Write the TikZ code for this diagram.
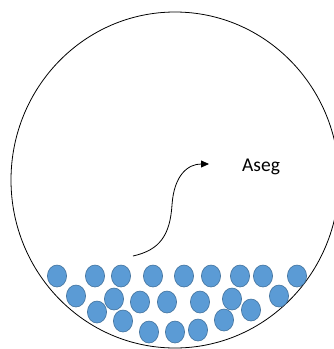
\documentclass[tikz,border=0pt]{standalone}
\usepackage{fontspec}
\setmainfont{Carlito}
\usepackage{xcolor}
\usetikzlibrary{arrows.meta,positioning}
\definecolor{dotblue}{HTML}{5B9BD5}
\definecolor{dotedge}{HTML}{41719C}
\tikzstyle{vessel} = [draw=black, line width=0.8pt]
\tikzstyle{particle} = [fill=dotblue, draw=dotedge, line width=0.6pt]
\tikzstyle{arrow} = [-{Triangle[length=8pt,width=7pt]}, line width=0.8pt]
\tikzstyle{label} = [font=\fontsize{19.5}{22}\selectfont, inner sep=0pt]

\begin{document}
\begin{tikzpicture}[x=1pt, y=-1pt]
\useasboundingbox (0,0) rectangle (334,349);
\clip (0,0) rectangle (334,349);
\draw[vessel] (175,180) ellipse [x radius=164, y radius=168];

% particles settled at the bottom
\foreach \px/\py in {57/276, 95/276, 121/276, 153/276, 184/276, 211/276, 240/276, 263/276, 297/276,
                     76/296, 114/299, 140/302, 167/302, 200/302, 232/299, 279/296,
                     97/312, 251/310, 123/321, 224/320,
                     149/332, 175/332, 198/330}
  \filldraw[particle] (\px,\py) ellipse [x radius=9.6, y radius=11];

\node[label, anchor=base west] (aseg) at (242,171) {Aseg};
\coordinate (start) at (133,256);
\coordinate (tip) at (209,164);
\draw[arrow] (start) .. controls (160,250) and (170,235) .. (172,205)
  .. controls (174,175) and (188,164) .. (tip);
\end{tikzpicture}
\end{document}
